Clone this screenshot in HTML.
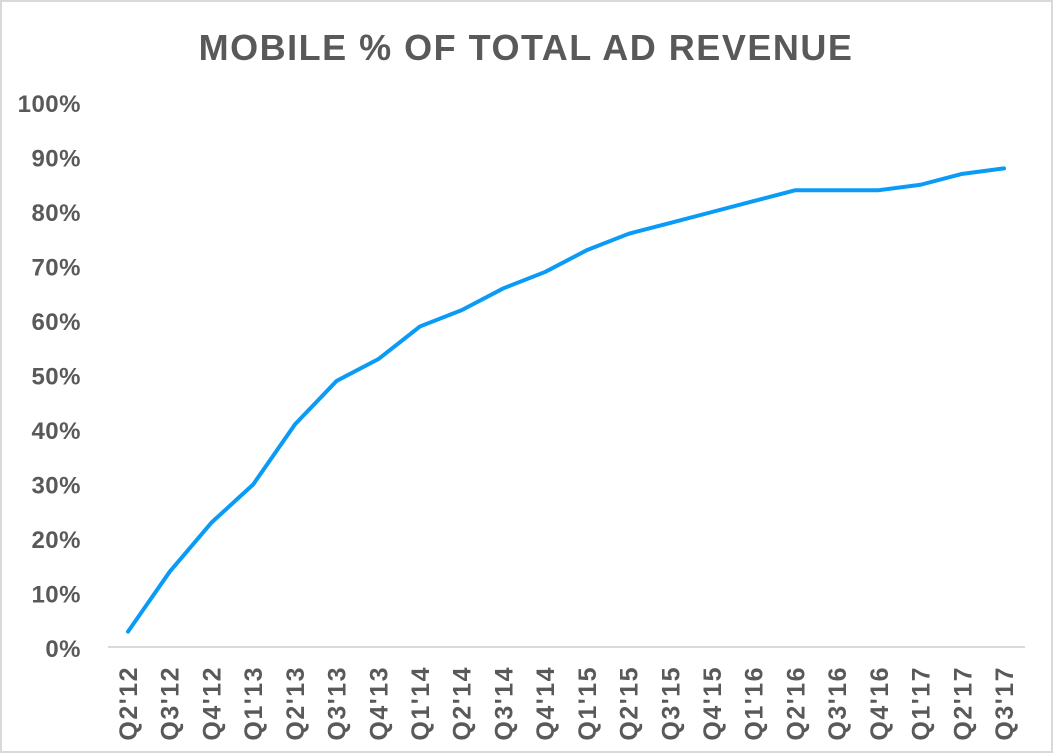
<!DOCTYPE html>
<html><head><meta charset="utf-8"><style>
body{margin:0;background:#fff}
svg{display:block;font-family:"Liberation Sans",Arial,sans-serif}
</style></head><body>
<svg id="c" width="1053" height="753">
<rect x="1" y="1" width="1051" height="751" fill="#fff" stroke="#d9d9d9" stroke-width="2"/>
<text x="526" y="60" text-anchor="middle" font-size="36" font-weight="bold" letter-spacing="1.5" fill="#595959">MOBILE % OF TOTAL AD REVENUE</text>
<g id="g"></g>
</svg>
<script>
const categories=["Q2'12","Q3'12","Q4'12","Q1'13","Q2'13","Q3'13","Q4'13","Q1'14","Q2'14","Q3'14","Q4'14","Q1'15","Q2'15","Q3'15","Q4'15","Q1'16","Q2'16","Q3'16","Q4'16","Q1'17","Q2'17","Q3'17"];
const values=[3,14,23,30,41,49,53,59,62,66,69,73,76,78,80,82,84,84,84,85,87,88];
const yTicks=[0,10,20,30,40,50,60,70,80,90,100];
const NS="http://www.w3.org/2000/svg";
const g=document.getElementById('g');
const x0=128,x1=1004,y0=648,y100=103;
const xs=i=>x0+i*(x1-x0)/(categories.length-1);
const ys=v=>y0+(y100-y0)*v/100;
function mk(t,a){const e=document.createElementNS(NS,t);for(const k in a)e.setAttribute(k,a[k]);g.appendChild(e);return e;}
yTicks.forEach(v=>{const t=mk('text',{x:81,y:ys(v)+9,'text-anchor':'end','font-size':24,'font-weight':'bold','letter-spacing':0.5,fill:'#595959'});t.textContent=v+'%';

});
const ax=mk('line',{x1:108,x2:1025,y1:647,y2:647,stroke:'#d9d9d9','stroke-width':2});


categories.forEach((c,i)=>{const x=xs(i);const t=mk('text',{x:0,y:0,'text-anchor':'end','font-size':25,'font-weight':'bold','letter-spacing':1.5,fill:'#595959',transform:`translate(${x+9},666) rotate(-90)`});t.textContent=c;

});
const p=mk('polyline',{points:values.map((v,i)=>xs(i)+','+ys(v)).join(' '),fill:'none',stroke:'#0a9bf7','stroke-width':4,'stroke-linejoin':'round','stroke-linecap':'round'});


</script>
</body></html>
